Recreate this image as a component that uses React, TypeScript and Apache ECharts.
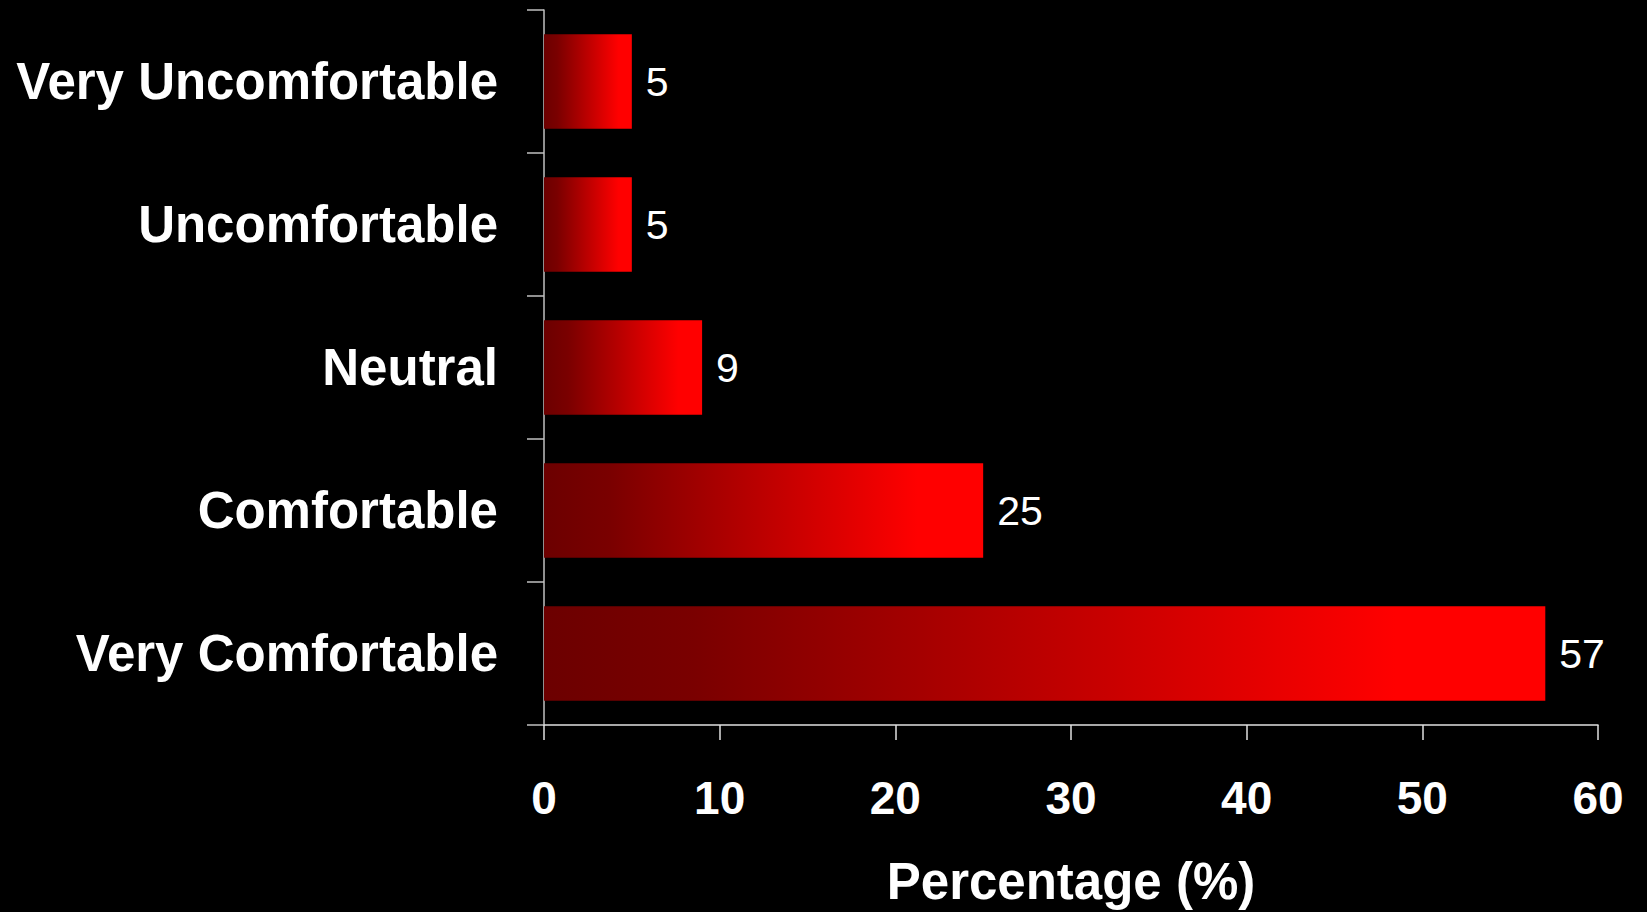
import React, { useEffect, useRef } from "react";
import * as echarts from "echarts";

const categories = ["Very Uncomfortable", "Uncomfortable", "Neutral", "Comfortable", "Very Comfortable"];
const values = [5, 5, 9, 25, 57];
const xTicks = [0, 10, 20, 30, 40, 50, 60];
const axisTitle = "Percentage (%)";

const FONT = "'Liberation Sans', Arial, sans-serif";

export default function App() {
  const ref = useRef<HTMLDivElement>(null);
  useEffect(() => {
    if (!ref.current) return;
    const chart = echarts.init(ref.current, undefined, { renderer: "svg" });
    const gradient = new echarts.graphic.LinearGradient(0, 0, 1, 0, [
      { offset: 0, color: "#6c0000" },
      { offset: 0.15, color: "#7a0000" },
      { offset: 0.85, color: "#ff0000" },
      { offset: 1, color: "#ff0000" },
    ]);
    chart.setOption({
      animation: false,
      backgroundColor: "#000000",
      grid: { left: 544, right: 49, top: 10, bottom: 183, containLabel: false },
      xAxis: {
        type: "value",
        min: xTicks[0],
        max: xTicks[xTicks.length - 1],
        interval: 10,
        splitLine: { show: false },
        axisLine: { show: true, lineStyle: { color: "#e0e0e0", width: 1.5 } },
        axisTick: { show: true, length: 15, lineStyle: { color: "#e0e0e0", width: 1.5 } },
        axisLabel: {
          color: "#ffffff",
          fontFamily: FONT,
          fontWeight: "bold",
          fontSize: 46,
          margin: 50,
        },
        name: axisTitle,
        nameLocation: "middle",
        nameGap: 131,
        nameTextStyle: {
          color: "#ffffff",
          fontFamily: FONT,
          fontWeight: "bold",
          fontSize: 51,
        },
      },
      yAxis: {
        type: "category",
        data: categories,
        inverse: true,
        axisLine: { show: true, lineStyle: { color: "#c0c0c0", width: 1.5 } },
        axisTick: { show: true, length: 17, lineStyle: { color: "#c0c0c0", width: 1.5 } },
        axisLabel: {
          color: "#ffffff",
          fontFamily: FONT,
          fontWeight: "bold",
          fontSize: 51,
          margin: 46,
        },
      },
      series: [
        {
          type: "bar",
          data: values,
          barCategoryGap: "34%",
          itemStyle: { color: gradient },
          label: {
            show: true,
            position: "right",
            distance: 14,
            color: "#ffffff",
            fontFamily: FONT,
            fontSize: 41,
            fontWeight: "normal",
          },
        },
      ],
    });
    return () => chart.dispose();
  }, []);
  return (
    <div
      ref={ref}
      style={{ position: "fixed", left: 0, top: 0, width: 1647, height: 912 }}
    />
  );
}
